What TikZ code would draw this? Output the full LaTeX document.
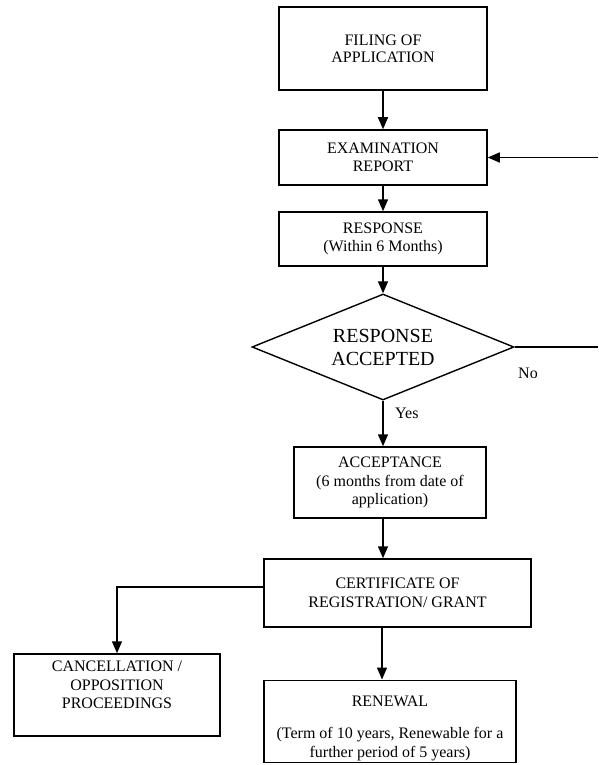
\documentclass[tikz,border=0pt]{standalone}
\usepackage{fontspec}
\setmainfont{Liberation Serif}
\usetikzlibrary{arrows.meta,shapes.geometric}

\begin{document}
\begin{tikzpicture}[x=1pt,y=-1pt,
  box/.style={draw, line width=1.5pt, rectangle, align=center, inner sep=2pt,
              font=\fontsize{16}{18.5}\selectfont},
  decision/.style={draw, line width=1.4pt, diamond, inner sep=0pt},
  dectext/.style={align=center, inner sep=0pt, font=\fontsize{20}{23}\selectfont},
  flow/.style={line width=1.5pt, -{Triangle[length=12pt,width=10pt]}},
  plain/.style={line width=1.5pt},
  lbl/.style={font=\fontsize{16}{18}\selectfont, inner sep=0pt}]
\useasboundingbox (0,0) rectangle (598,765);

% main column of process boxes
\node[box, minimum width=208pt, minimum height=83pt] (filing) at (383,48.5)
  {FILING OF\\[-1.5pt]APPLICATION};
\node[box, minimum width=208pt, minimum height=55pt] (exam) at (383,157.5)
  {EXAMINATION\\REPORT};
\node[box, minimum width=208pt, minimum height=54pt] (resp) at (383,239)
  {RESPONSE\\(Within 6 Months)};
\node[decision, minimum width=262pt, minimum height=106pt] (dec) at (383,347) {};
\node[dectext] (dectxt) at (dec.center) {RESPONSE\\ACCEPTED};
\node[box, minimum width=192pt, minimum height=71pt] (acc) at (390,482.5)
  {ACCEPTANCE\\(6 months from date of\\application)};
\node[box, minimum width=267pt, minimum height=68pt] (cert) at (397.5,593)
  {CERTIFICATE OF\\REGISTRATION/ GRANT};
\node[box, minimum width=252pt, minimum height=81pt] (ren) at (390,721.5)
  {\rule{0pt}{24pt}RENEWAL\\[14pt](Term of 10 years, Renewable for a\\further period of 5 years)};
\node[box, minimum width=206pt, minimum height=82pt] (canc) at (117,695)
  {CANCELLATION /\\OPPOSITION\\PROCEEDINGS\\[2pt]\mbox{}};

% free ends at the right margin
\coordinate (backin) at (598,157.5);
\coordinate (noout) at (598,347);
\coordinate (certleft) at (cert.west |- 0,587);

% connectors
\draw[flow] (filing.south) -- (exam.north);
\draw[flow] (exam.south) -- (resp.north);
\draw[flow] (resp.south) -- (dec.north);
\draw[flow] (dec.south) -- (dec.south |- acc.north);
\draw[flow] (dec.south |- acc.south) -- (dec.south |- cert.north);
\draw[flow] (382,627) coordinate (certfoot) -- (certfoot |- ren.north);
\draw[flow] (certleft) -| (canc.north);
\draw[flow] (backin) -- (exam.east);
\draw[plain] (dec.east) -- (noout);

% branch labels
\node[lbl, anchor=west] (no) at (518,373) {No};
\node[lbl, anchor=west] (yes) at (395,413) {Yes};
\end{tikzpicture}
\end{document}
